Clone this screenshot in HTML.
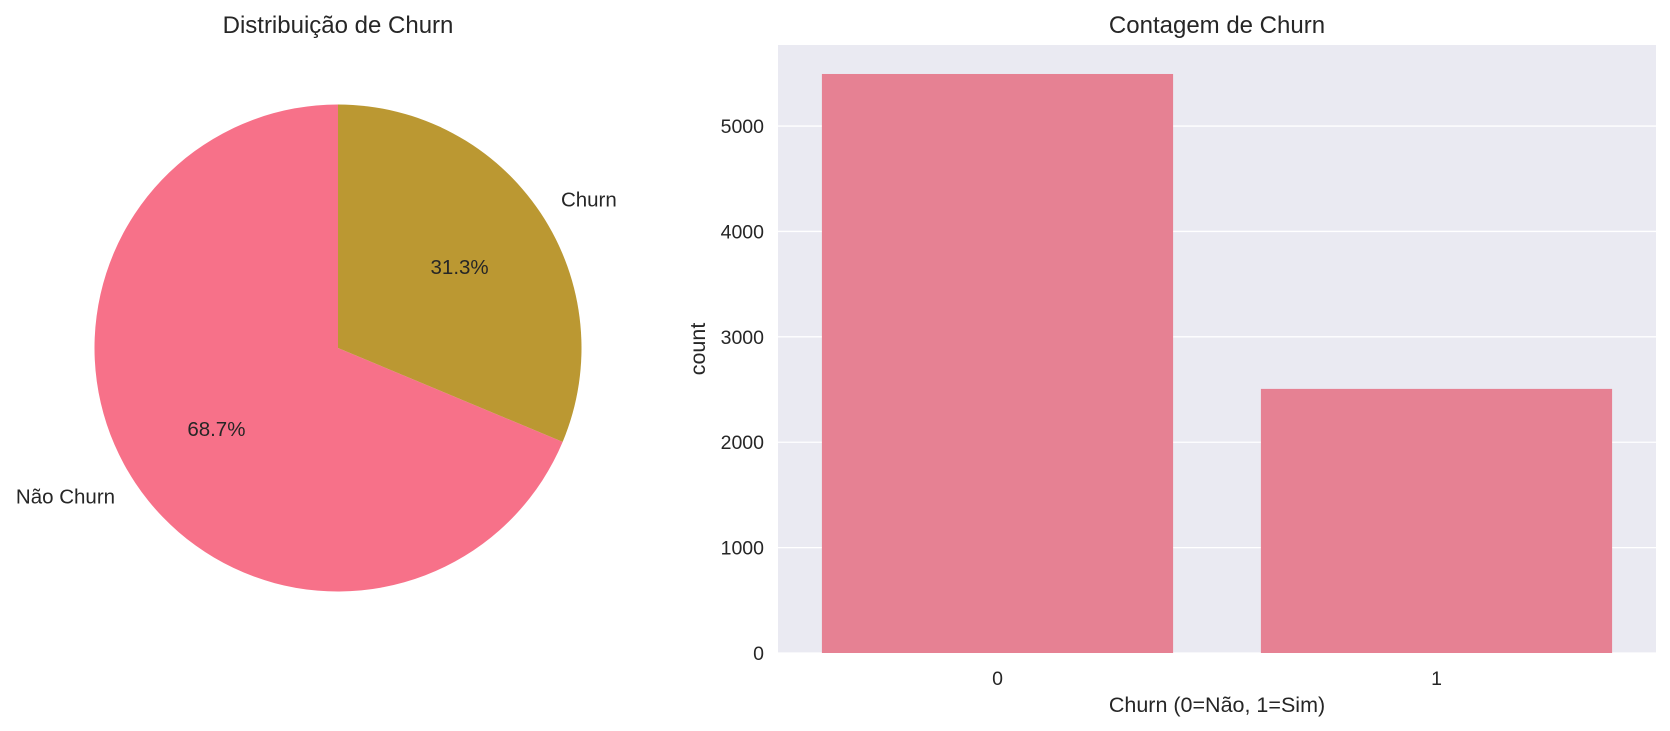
<!DOCTYPE html>
<html><head><meta charset="utf-8"><style>
body{margin:0;background:#fff;}
svg{display:block;font-family:"Liberation Sans",Arial,sans-serif;fill:#262626;}
</style></head><body>
<svg width="1670" height="731" viewBox="0 0 1670 731" id="chart">
<g id="pie"></g>
<g id="bars"></g>
</svg>
<script>
const pieLabels = ["Não Churn", "Churn"];
const pieValues = [68.7, 31.3];
const pieColors = ["#f77189", "#bb9832"];
const barCategories = ["0", "1"];
const barValues = [5494, 2506];
const yTicks = [0, 1000, 2000, 3000, 4000, 5000];

const NS = "http://www.w3.org/2000/svg";
function mk(tag, attrs, parent, text){
  const e = document.createElementNS(NS, tag);
  for (const k in attrs) e.setAttribute(k, attrs[k]);
  if (text !== undefined) e.textContent = text;
  parent.appendChild(e);
  return e;
}
// PIE
const pie = document.getElementById("pie");
const cx = 338, cy = 348, R = 243.5;
const pt = mk("text", {x: cx, y: 33, "text-anchor": "middle", "font-size": 24}, pie, "Distribuição de Churn");


const total = pieValues.reduce((a, b) => a + b, 0);
let ang = 90;
pieValues.forEach((v, i) => {
  const sweep = v / total * 360;
  const a0 = ang * Math.PI / 180, a1 = (ang + sweep) * Math.PI / 180;
  const x0 = cx + R * Math.cos(a0), y0 = cy - R * Math.sin(a0);
  const x1 = cx + R * Math.cos(a1), y1 = cy - R * Math.sin(a1);
  const large = sweep > 180 ? 1 : 0;
  const p = mk("path", {d: `M${cx},${cy} L${x0},${y0} A${R},${R} 0 ${large} 0 ${x1},${y1} Z`, fill: pieColors[i]}, pie);
  
  
  const mid = (ang + sweep / 2) * Math.PI / 180;
  const lx = cx + 1.1 * R * Math.cos(mid), ly = cy - 1.1 * R * Math.sin(mid);
  const lt = mk("text", {x: lx, y: ly + 7, "text-anchor": Math.cos(mid) < 0 ? "end" : "start", "font-size": 20.5}, pie, pieLabels[i]);
  
  
  const px = cx + 0.6 * R * Math.cos(mid), py = cy - 0.6 * R * Math.sin(mid);
  const pc = mk("text", {x: px, y: py + 7, "text-anchor": "middle", "font-size": 20.5}, pie, v.toFixed(1) + "%");
  
  
  ang += sweep;
});
// BARS
const bars = document.getElementById("bars");
const L = 778, Rr = 1656, T = 45, B = 653;
const yMax = 5769;
const ys = v => B - v / yMax * (B - T);
const xs = c => L + (c + 0.5) / 2 * (Rr - L);
const bg = mk("rect", {x: L, y: T, width: Rr - L, height: B - T, fill: "#eaeaf2"}, bars);


yTicks.forEach(t => {
  const g = mk("line", {x1: L, x2: Rr, y1: ys(t), y2: ys(t), stroke: "#fff", "stroke-width": 1.3}, bars);
  
  
  const tl = mk("text", {x: L - 14, y: ys(t) + 7, "text-anchor": "end", "font-size": 19.5}, bars, String(t));
  
  
});
barValues.forEach((v, i) => {
  const w = 0.8 / 2 * (Rr - L);
  const r = mk("rect", {x: xs(i) - w / 2, y: ys(v), width: w, height: B - ys(v), fill: "#e68193"}, bars);
  
  
  const tl = mk("text", {x: xs(i), y: 685, "text-anchor": "middle", "font-size": 19.5}, bars, barCategories[i]);
  
  
});
const bt = mk("text", {x: (L + Rr) / 2, y: 33, "text-anchor": "middle", "font-size": 24}, bars, "Contagem de Churn");


const xl = mk("text", {x: (L + Rr) / 2, y: 712, "text-anchor": "middle", "font-size": 21.5}, bars, "Churn (0=Não, 1=Sim)");


const yl = mk("text", {x: 0, y: 0, "text-anchor": "middle", "font-size": 21.5, transform: `translate(705,${(T + B) / 2}) rotate(-90)`}, bars, "count");


</script>
</body></html>
